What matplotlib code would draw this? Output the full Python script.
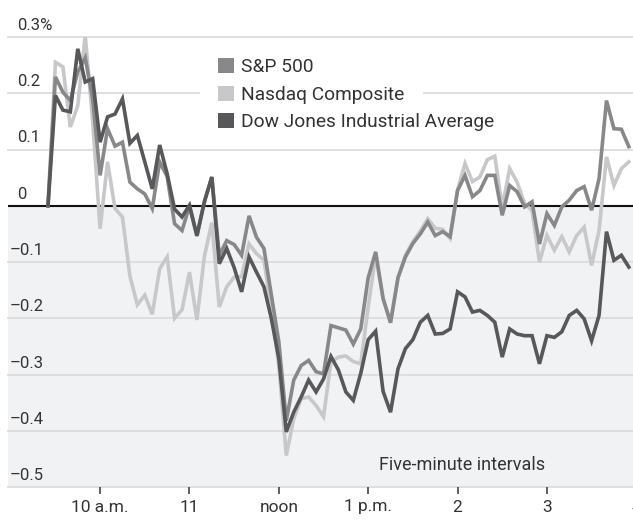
import matplotlib
matplotlib.use("Agg")
import matplotlib.pyplot as plt
from matplotlib.patches import Patch, Rectangle

plt.rcParams['font.family'] = ['Roboto', 'DejaVu Sans']

# five-minute intervals, 9:25 through 3:55
sp500 = [0, 0.229, 0.202, 0.187, 0.238, 0.263, 0.19, 0.054, 0.137, 0.106,
         0.113, 0.042, 0.03, 0.021, -0.005, 0.078, 0.052, -0.032, -0.044, -0.001,
         -0.054, 0.007, 0.051, -0.088, -0.062, -0.069, -0.088, -0.018, -0.056, -0.076,
         -0.159, -0.242, -0.382, -0.31, -0.284, -0.275, -0.295, -0.299, -0.213, -0.217,
         -0.221, -0.246, -0.219, -0.128, -0.082, -0.165, -0.208, -0.128, -0.091, -0.067,
         -0.05, -0.029, -0.053, -0.046, -0.055, 0.027, 0.054, 0.016, 0.027, 0.054,
         0.054, -0.017, 0.036, 0.025, -0.002, 0.007, -0.068, -0.014, -0.035, -0.002,
         0.01, 0.027, 0.034, -0.008, 0.048, 0.187, 0.137, 0.136, 0.105]
nasdaq = [0, 0.255, 0.247, 0.14, 0.178, 0.303, 0.15, -0.041, 0.078, -0.005,
          -0.02, -0.125, -0.176, -0.159, -0.193, -0.112, -0.091, -0.2, -0.185, -0.118,
          -0.203, -0.09, -0.03, -0.18, -0.144, -0.127, -0.126, -0.068, -0.085, -0.097,
          -0.183, -0.284, -0.444, -0.379, -0.343, -0.34, -0.355, -0.375, -0.278, -0.269,
          -0.267, -0.277, -0.281, -0.18, -0.088, -0.165, -0.207, -0.128, -0.088, -0.064,
          -0.045, -0.023, -0.04, -0.042, -0.058, 0.028, 0.075, 0.043, 0.051, 0.082,
          0.088, -0.002, 0.066, 0.042, 0.004, -0.008, -0.1, -0.053, -0.079, -0.055,
          -0.082, -0.053, -0.038, -0.106, -0.044, 0.087, 0.036, 0.066, 0.078]
dow = [0, 0.196, 0.17, 0.167, 0.279, 0.22, 0.226, 0.113, 0.158, 0.163,
       0.19, 0.111, 0.125, 0.078, 0.03, 0.108, 0.057, -0.006, -0.02, 0.001,
       -0.053, 0.007, 0.051, -0.103, -0.076, -0.11, -0.153, -0.091, -0.118, -0.144,
       -0.201, -0.272, -0.402, -0.367, -0.34, -0.31, -0.331, -0.308, -0.268, -0.292,
       -0.331, -0.346, -0.298, -0.238, -0.223, -0.33, -0.367, -0.29, -0.254, -0.238,
       -0.207, -0.195, -0.228, -0.227, -0.219, -0.153, -0.162, -0.189, -0.186, -0.195,
       -0.207, -0.269, -0.219, -0.228, -0.231, -0.231, -0.281, -0.231, -0.234, -0.224,
       -0.195, -0.186, -0.201, -0.24, -0.195, -0.046, -0.097, -0.088, -0.109]

series_names = ['S&P 500', 'Nasdaq Composite', 'Dow Jones Industrial Average']
series_colors = ['#88888a', '#c8c8ca', '#58585a']

hour_ticks = [7, 19, 31, 43, 55, 67, 79]
hour_labels = ['10 a.m.', '11', 'noon', '1 p.m.', '2', '3', '4']
y_levels = [0.3, 0.2, 0.1, 0, -0.1, -0.2, -0.3, -0.4, -0.5]
y_labels = ['0.3%', '0.2', '0.1', '0', '\u20130.1', '\u20130.2', '\u20130.3', '\u20130.4', '\u20130.5']

W, H = 633, 524
fig = plt.figure(figsize=(W / 100, H / 100), dpi=100)
ax = fig.add_axes([8 / W, 37 / H, 632 / W, 450 / H])
ax.set_xlim(-5.37, 79.5)
ax.set_ylim(-0.5, 0.3)
for s in ax.spines.values():
    s.set_visible(False)

ax.axhspan(-0.5, 0, color='#f1f2f4', zorder=0, lw=0)
for v, lab in zip(y_levels, y_labels):
    if v == 0:
        ax.axhline(0, color='#111111', lw=1.5, zorder=4)
    else:
        ax.axhline(v, color='#dcdcdc', lw=1.3, zorder=1, clip_on=False)
    # minus sign hangs to the left of the digits
    off = 2 if v < 0 else 9
    ax.annotate(lab, xy=(0, v), xycoords=('axes fraction', 'data'),
                xytext=(off, 4), textcoords='offset pixels', ha='left', va='bottom',
                fontsize=12, color='#333333')

x = list(range(len(sp500)))
ax.plot(x, nasdaq, color=series_colors[1], lw=2.6, zorder=5, solid_joinstyle='miter')
ax.plot(x, sp500, color=series_colors[0], lw=2.6, zorder=6, solid_joinstyle='miter')
ax.plot(x, dow, color=series_colors[2], lw=2.6, zorder=7, solid_joinstyle='miter')

ax.set_yticks([])
ax.set_xticks(hour_ticks)
ax.set_xticklabels(hour_labels, fontsize=12.5, color='#333333')
ax.tick_params(axis='x', direction='out', length=5, width=1.2, color='#444444', pad=4)

# white block behind the key (covers the 0.2 gridline)
ax.add_patch(Rectangle((200 / W, 1 - 140 / H), 223 / W, 95 / H, transform=fig.transFigure,
                       facecolor='white', edgecolor='none', zorder=2))
handles = [Patch(facecolor=c, edgecolor='none') for c in series_colors]
leg = ax.legend(handles, series_names, loc='upper left',
                bbox_to_anchor=(201 / W, 1 - 41 / H), bbox_transform=fig.transFigure,
                fontsize=13.8, frameon=False,
                handlelength=0.8, handleheight=0.8, handletextpad=0.4,
                labelspacing=0.5, borderpad=0.4, labelcolor='#333333')
leg.set_zorder(3)

ax.text(66.8, -0.47, 'Five-minute intervals', ha='right', va='baseline',
        fontsize=13, color='#333333')

fig.savefig('out.png', dpi=100)
